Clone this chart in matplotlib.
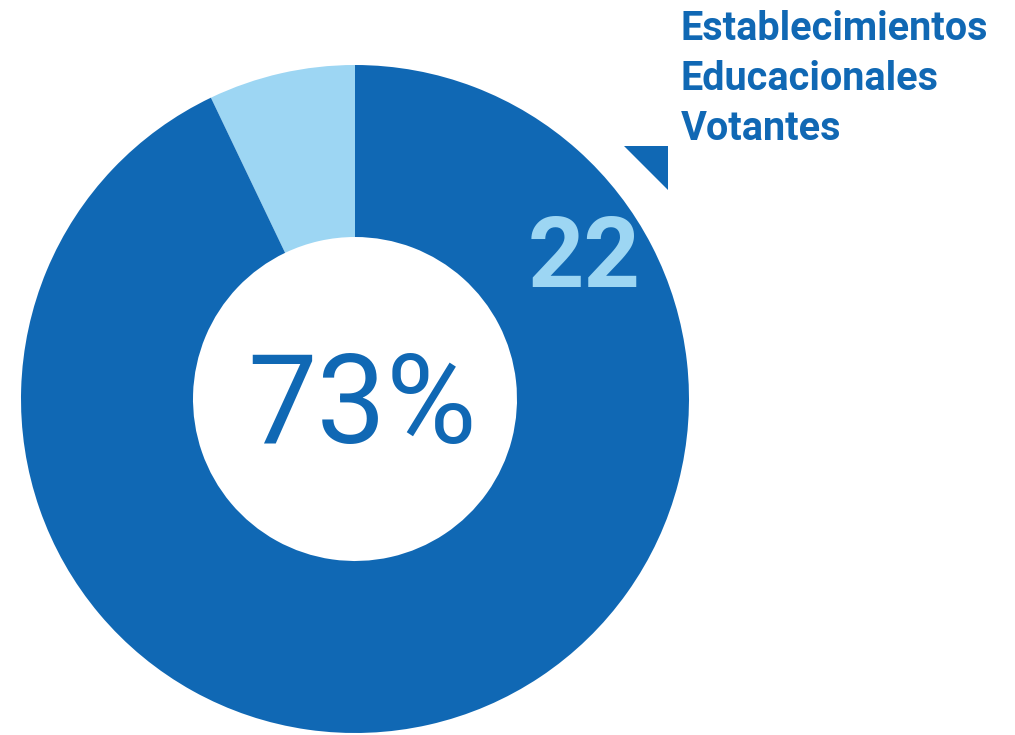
import matplotlib
matplotlib.use("Agg")

import matplotlib.pyplot as plt
from matplotlib.patches import Polygon

# share of the ring (percent), light slice first from 12 o'clock
slice_labels = ["Establecimientos Educacionales Votantes", "Resto"]
slice_values = [7.1, 92.9]
slice_colors = ["#9dd6f3", "#1068b4"]

center_text = "73%"
count_text = "22"
legend_lines = ["Establecimientos", "Educacionales", "Votantes"]

DARK = "#1068b4"
LIGHT = "#9dd6f3"

W, H = 1015, 735
fig = plt.figure(figsize=(W / 100, H / 100), dpi=100)
ax = fig.add_axes([0, 0, 1, 1])

ax.pie(
    slice_values,
    colors=slice_colors,
    startangle=90,
    counterclock=True,
    center=(355, H - 399),
    radius=334,
    wedgeprops=dict(width=334 - 162, linewidth=0),
)

ax.set_xlim(0, W)
ax.set_ylim(0, H)
ax.set_aspect("equal")
ax.axis("off")

ax.text(
    362, H - 443, center_text,
    ha="center", va="baseline",
    fontsize=89, color=DARK, family="Roboto"
)

ax.text(
    584, H - 287, count_text,
    ha="center", va="baseline",
    fontsize=71, color=LIGHT, family="Roboto", fontweight="bold"
)

for i, line in enumerate(legend_lines):
    ax.text(
        681, H - 40 - i * 50, line,
        ha="left", va="baseline",
        fontsize=28.5, color=DARK, family="Roboto", fontweight="bold"
    )

# small pointer triangle next to the label
ax.add_patch(Polygon(
    [(624, H - 146), (668, H - 146), (668, H - 190)],
    closed=True, facecolor=DARK, edgecolor="none"
))

fig.savefig("out.png", dpi=100)
plt.close(fig)
